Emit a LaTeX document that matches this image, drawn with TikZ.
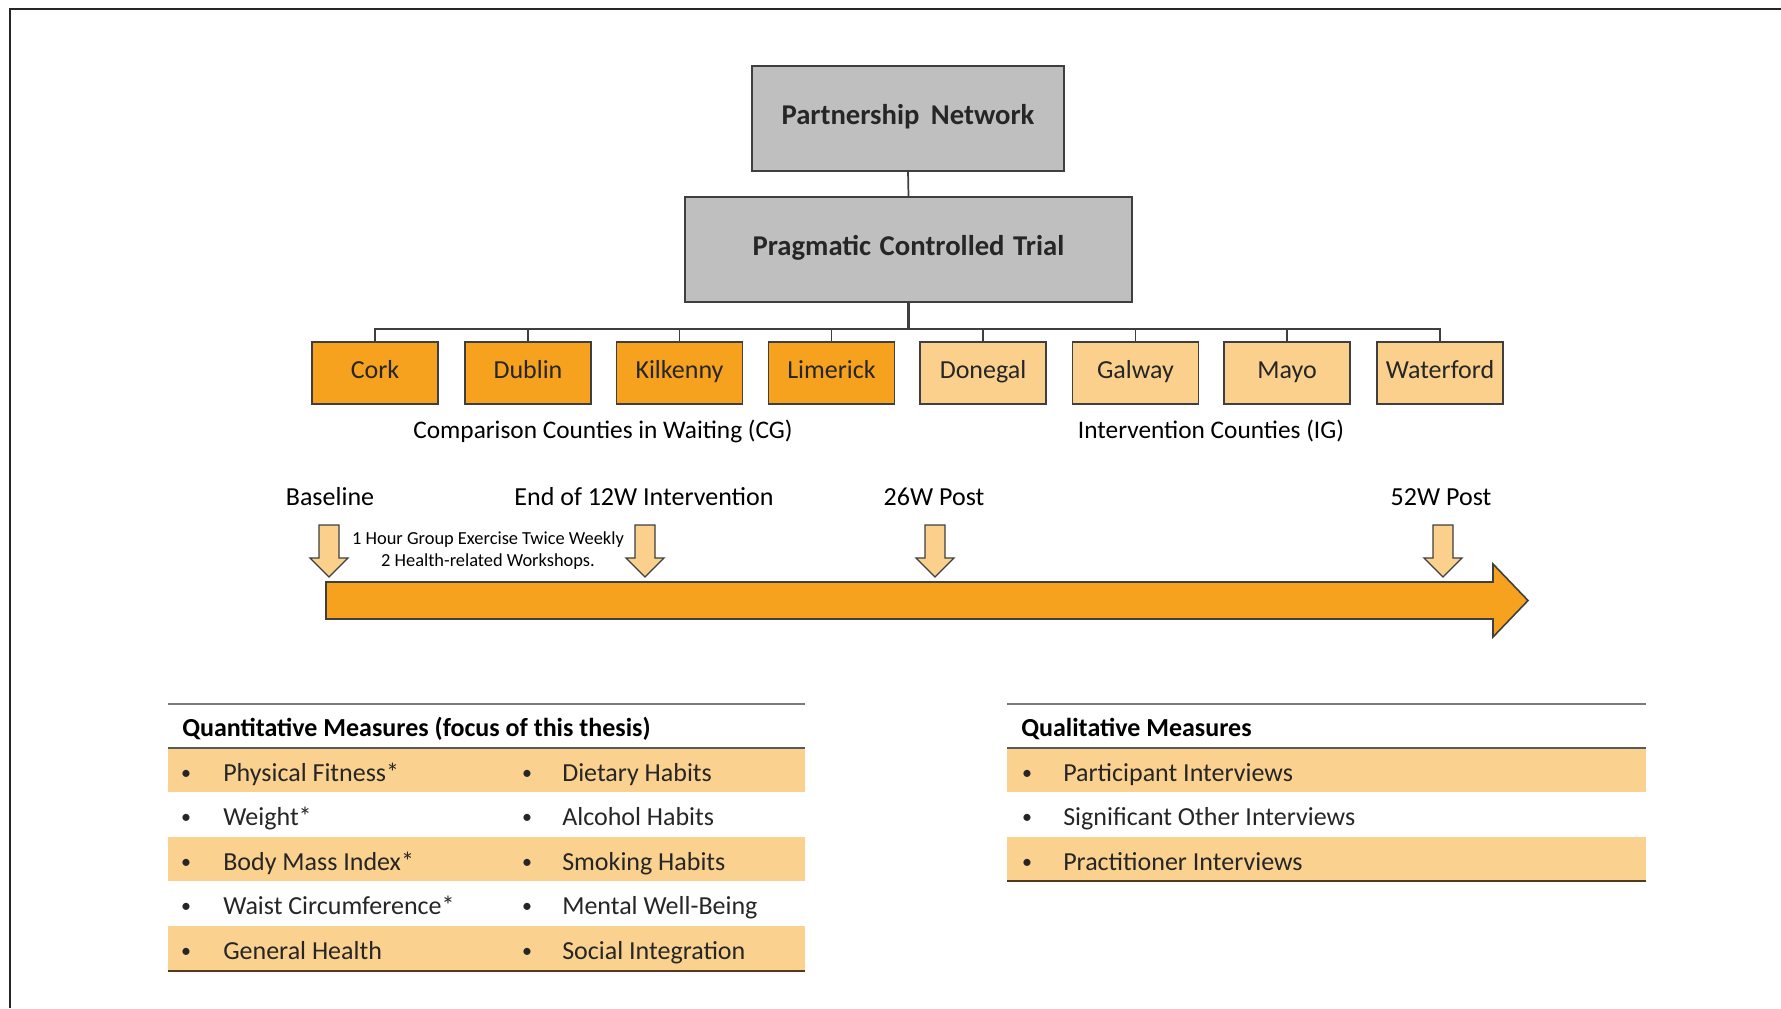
\documentclass[tikz,border=0pt]{standalone}
\usepackage{fontspec}
\setmainfont{Carlito}
\definecolor{orD}{HTML}{F6A21E}
\definecolor{orL}{HTML}{FAD08C}
\definecolor{rowL}{HTML}{FAD18F}
\definecolor{grayB}{HTML}{BFBFBF}
\definecolor{lineC}{HTML}{3F3F3F}
\definecolor{txt}{HTML}{262626}
\definecolor{tabline}{HTML}{7A7A7A}
\tikzset{
  graybox/.style={draw=lineC, line width=1.5pt, fill=grayB, inner sep=0pt, outer sep=0pt,
    minimum height=78.75pt, text height=0.88em, text depth=0pt,
    font=\fontsize{21.5pt}{24pt}\selectfont\bfseries, text=txt},
  county/.style={draw=lineC, line width=1.2pt, inner sep=0pt, outer sep=0pt,
    minimum width=94.5pt, minimum height=46.5pt, text height=0.82em, text depth=0pt,
    font=\fontsize{19.5pt}{23pt}\selectfont, text=txt},
  cdark/.style={county, fill=orD},
  clight/.style={county, fill=orL},
  conn/.style={draw=lineC, line width=1.3pt},
  tlabel/.style={font=\fontsize{19.5pt}{23pt}\selectfont, text=black, inner sep=0pt,
    text height=0.64em, text depth=0pt},
  grplabel/.style={font=\fontsize{19pt}{23pt}\selectfont, text=black, inner sep=0pt,
    text height=0.64em, text depth=0pt},
  smalltxt/.style={font=\fontsize{13.8pt}{15pt}\selectfont, text=black, inner sep=0pt,
    text height=0.64em, text depth=0pt},
  downarrow/.style={fill=orL, draw=lineC, line width=1pt, line join=miter},
  item/.style={anchor=base west, inner sep=0pt, font=\fontsize{19.5pt}{23pt}\selectfont, text=txt},
  bul/.style={anchor=base, inner sep=0pt, font=\fontsize{15pt}{18pt}\selectfont, text=txt},
  thead/.style={anchor=base west, inner sep=0pt, font=\fontsize{19.5pt}{23pt}\selectfont\bfseries, text=black},
  tline/.style={draw=tabline, line width=2pt},
}
\begin{document}
\begin{tikzpicture}[x=0.75pt, y=-0.75pt]
\useasboundingbox[fill=white] (0,0) rectangle (1781,1008);
% frame
\draw[line width=2.2pt, black!85] (1781,9) -- (10,9) -- (10,1008);

% top hierarchy
\node[graybox, minimum width=234pt] (pn) at (908,118.5) {Partnership\hspace{0.4em}Network};
\node[graybox, minimum width=335.25pt] (pct) at (908.5,249.5) {Pragmatic\hspace{0.3em}Controlled\hspace{0.3em}Trial};
\draw[conn] (pn.south) -- (pct.south |- pct.north);

\node[cdark]  (cork) at (375,373) {Cork};
\node[cdark]  (dub)  at (528,373) {Dublin};
\node[cdark]  (kil)  at (679.5,373) {Kilkenny};
\node[cdark]  (lim)  at (831.5,373) {Limerick};
\node[clight] (don)  at (983,373) {Donegal};
\node[clight] (gal)  at (1135.5,373) {Galway};
\node[clight] (mayo) at (1287,373) {Mayo};
\node[clight] (wat)  at (1440,373) {Waterford};

\coordinate (bus) at (908.5,329);
\draw[draw=lineC, line width=2.2pt] (pct.south) -- (bus);
\foreach \c in {cork,dub,kil,lim,don,gal,mayo,wat}{
  \draw[conn] (bus) -| (\c.north);
}

\node[grplabel] (cg) at (603,434) {Comparison Counties in Waiting (CG)};
\node[grplabel] (ig) at (1211,434) {Intervention Counties (IG)};

% timeline
\draw[fill=orD, draw=lineC, line width=1.2pt, line join=miter]
  (326,582) -- (1493,582) -- (1493,564) -- (1528,600.5) -- (1493,637) -- (1493,619) -- (326,619) -- cycle;

\foreach \x/\n in {329/a1, 645/a2, 935/a3, 1443/a4}{
  \draw[downarrow] (\x-10,525) -- (\x+10,525) -- (\x+10,558) -- (\x+19,558) -- (\x,577)
     -- (\x-19,558) -- (\x-10,558) -- cycle;
}

\node[tlabel] (bl) at (330,501) {Baseline};
\node[tlabel] (eo) at (644,501) {End of 12W Intervention};
\node[tlabel] (p26) at (934,501) {26W Post};
\node[tlabel] (p52) at (1441,501) {52W Post};

\node[smalltxt] (s1) at (488,540.5) {1 Hour Group Exercise Twice Weekly};
\node[smalltxt] (s2) at (488,562.5) {2 Health-related Workshops.};

% Quantitative table
\foreach \ya/\yb in {748/792, 837/881, 926/971}{
  \fill[rowL] (168,\ya) rectangle (805,\yb);
}
\draw[tline] (168,704) -- (805,704);
\draw[draw=black!65, line width=2pt] (168,748) -- (805,748);
\draw[draw=black!55!brown, line width=2pt] (168,971) -- (805,971);
\node[thead] (qh) at (182,736) {Quantitative Measures (focus of this thesis)};
\foreach \y/\a/\b [count=\i] in {781/Physical Fitness*/Dietary Habits,
  825.5/Weight*/Alcohol Habits, 870/Body Mass Index*/Smoking Habits,
  914.5/Waist Circumference*/Mental Well-Being, 959.5/General Health/Social Integration}{
  \node[bul] (qb\i) at (186,\y-2) {•};
  \node[item] (qa\i) at (223,\y) {\a};
  \node[bul] (qc\i) at (527,\y-2) {•};
  \node[item] (qd\i) at (562,\y) {\b};
}

% Qualitative table
\foreach \ya/\yb in {748/792, 837/881}{
  \fill[rowL] (1007,\ya) rectangle (1646,\yb);
}
\draw[tline] (1007,704) -- (1646,704);
\draw[draw=black!65, line width=2pt] (1007,748) -- (1646,748);
\draw[draw=black!55!brown, line width=2pt] (1007,881) -- (1646,881);
\node[thead] (lh) at (1021,736) {Qualitative Measures};
\foreach \y/\a [count=\i] in {781/Participant Interviews, 825.5/Significant Other Interviews, 870/Practitioner Interviews}{
  \node[bul] (lb\i) at (1027,\y-2) {•};
  \node[item] (la\i) at (1063,\y) {\a};
}
\end{tikzpicture}
\end{document}
